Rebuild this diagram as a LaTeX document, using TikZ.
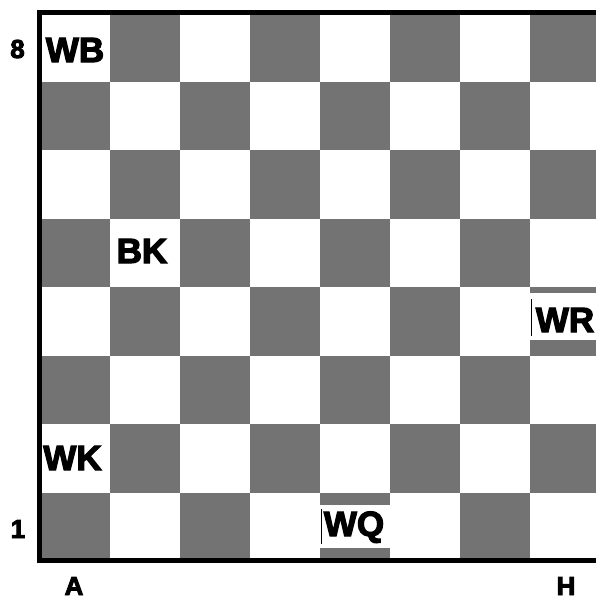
\documentclass[tikz,border=0pt]{standalone}
\usepackage{fontspec}
\setmainfont{Liberation Sans}
\newfontfamily\heavyfont[FakeBold=3.5,BoldFeatures={FakeBold=3.5}]{Liberation Sans}
\begin{document}
\begin{tikzpicture}[x=1pt,y=-1pt,
  dark/.style={fill=black!55},
  piece/.style={font=\heavyfont\fontsize{35}{35}\selectfont\bfseries, inner sep=0pt, anchor=base},
  coordlabel/.style={font=\heavyfont\fontsize{26}{26}\selectfont\bfseries, inner sep=0pt, anchor=base},
  boxline/.style={line width=0.8pt}]
\useasboundingbox (0,0) rectangle (596,600);
\fill[white] (0,0) rectangle (596,600);
\begin{scope}
\clip (0,0) rectangle (596,600);
\foreach \c in {0,...,7} {
  \foreach \r in {0,...,7} {
    \pgfmathtruncatemacro{\odd}{mod(\c+\r,2)}
    \ifnum\odd=1
      \fill[dark] ({40+70*\c},{13+68.5*\r}) rectangle ++(70,68.5);
    \fi
  }
}
% white label boxes over dark squares
\fill[white] (320,505) rectangle (390,548);
\draw[boxline] (321.5,509) -- (321.5,544);
\fill[white] (530,293) rectangle (600,340);
\draw[boxline] (531.5,299) -- (531.5,336);
% border
\draw[line width=4.5pt] (600,12.5) -- (39.5,12.5) -- (39.5,560.5) -- (600,560.5);
\end{scope}
% pieces
\node[piece] (wb) at (75,62) {WB};
\node[piece] (bk) at (142,263) {BK};
\node[piece] (wk) at (72.5,470) {WK};
\node[piece] (wq) at (354,536) {WQ};
\node[piece] (wr) at (565,332) {WR};
% coordinates
\node[coordlabel] (r8) at (17.5,58) {8};
\node[coordlabel] (r1) at (18,538) {1};
\node[coordlabel] (ca) at (74,595) {A};
\node[coordlabel] (ch) at (566,595) {H};
\end{tikzpicture}
\end{document}
